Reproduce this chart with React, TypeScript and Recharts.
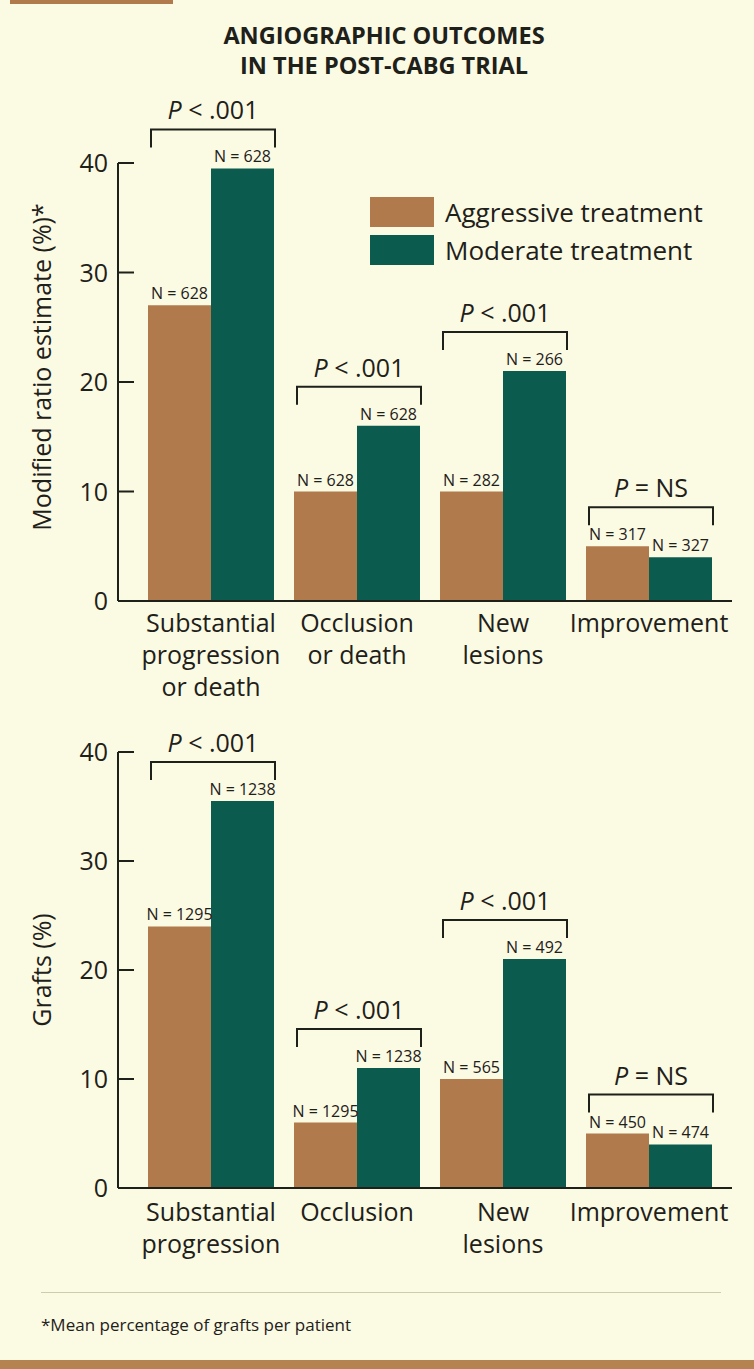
import React from 'react';
import { BarChart, Bar, XAxis, YAxis, Legend, LabelList } from 'recharts';

// top panel: per-patient estimates
const topCategories = ['Substantial\nprogression\nor death', 'Occlusion\nor death', 'New\nlesions', 'Improvement'];
const topAggressive = [27, 10, 10, 5];
const topModerate = [39.5, 16, 21, 4];
const topNAggressive = [628, 628, 282, 317];
const topNModerate = [628, 628, 266, 327];
const topP = ['< .001', '< .001', '< .001', '= NS'];

// bottom panel: per-graft percentages
const bottomCategories = ['Substantial\nprogression', 'Occlusion', 'New\nlesions', 'Improvement'];
const bottomAggressive = [24, 6, 10, 5];
const bottomModerate = [35.5, 11, 21, 4];
const bottomNAggressive = [1295, 1295, 565, 450];
const bottomNModerate = [1238, 1238, 492, 474];
const bottomP = ['< .001', '< .001', '< .001', '= NS'];

const yTicks = [0, 10, 20, 30, 40];

const BG = '#fbfae2';
const BROWN = '#b07a4c';
const TEAL = '#0c5b4f';
const INK = '#1e201a';
const FONT = '"Open Sans", sans-serif';

function buildRows(cats: string[], a: number[], m: number[], na: number[], nm: number[], p: string[]) {
  return cats.map((c, i) => ({ name: c, aggressive: a[i], moderate: m[i], nA: na[i], nM: nm[i], p: p[i] }));
}

const topRows = buildRows(topCategories, topAggressive, topModerate, topNAggressive, topNModerate, topP);
const bottomRows = buildRows(bottomCategories, bottomAggressive, bottomModerate, bottomNAggressive, bottomNModerate, bottomP);

const YTick = (props: any) => {
  const { x, y, payload } = props;
  return (
    <g>
      <line x1={x + 10} x2={x + 26} y1={y} y2={y} stroke={INK} strokeWidth={2} />
      <text x={x} y={y} dy="0.36em" textAnchor="end" fontSize={25} fill={INK} fontFamily={FONT}>
        {payload.value}
      </text>
    </g>
  );
};

const makeXTick = (firstDy: number) => (props: any) => {
  const { x, y, payload } = props;
  const lines = String(payload.value).split('\n');
  return (
    <text x={x} y={y} textAnchor="middle" fontSize={25} fill={INK} fontFamily={FONT}>
      {lines.map((l, i) => (
        <tspan key={i} x={x} y={y + firstDy + i * 32}>{l}</tspan>
      ))}
    </text>
  );
};

const nLabel = (props: any) => {
  const vb = props.viewBox ?? props;
  const { x, y, width } = vb;
  return (
    <text x={x + width / 2} y={y - 6} textAnchor="middle" fontSize={16} fontWeight={500} fill={INK} fontFamily={FONT}>
      {`N = ${props.value}`}
    </text>
  );
};

const makeBracket = (rows: any[]) => (props: any) => {
  const vb = props.viewBox ?? props;
  const { x, y, width, height } = vb;
  const row = rows[props.index];
  if (!row) return null;
  const perUnit = height / row.moderate;
  const brownTop = y + height - row.aggressive * perUnit;
  const top = Math.min(y, brownTop);
  const by = top - 39;
  const left = x - width + 3;
  const right = x + width + 1;
  return (
    <g>
      <path d={`M${left},${by + 18}V${by}H${right}V${by + 18}`} fill="none" stroke={INK} strokeWidth={2} />
      <text x={(left + right) / 2} y={by - 10} textAnchor="middle" fontSize={25} fill={INK} fontFamily={FONT}>
        <tspan fontStyle="italic">P</tspan>
        <tspan>{` ${props.value}`}</tspan>
      </text>
    </g>
  );
};

const LegendContent = (props: any) => (
  <div style={{ fontFamily: FONT }}>
    {(props.payload || []).map((p: any) => (
      <div key={p.value} style={{ display: 'flex', alignItems: 'center', height: 38 }}>
        <span style={{ display: 'inline-block', width: 64, height: 30, background: p.color, marginRight: 11 }} />
        <span style={{ fontSize: 26, color: INK }}>{p.value}</span>
      </div>
    ))}
  </div>
);

function Panel({ rows, height, marginTop, xHeight, yLabel, yShift, firstDy, legend }: any) {
  return (
    <BarChart
      width={754}
      height={height}
      data={rows}
      margin={{ top: marginTop, right: 22, bottom: 0, left: 0 }}
      barCategoryGap={10}
      barGap={0}
    >
      <XAxis
        dataKey="name"
        interval={0}
        height={xHeight}
        padding={{ left: 20, right: 10 }}
        axisLine={{ stroke: INK, strokeWidth: 2 }}
        tickLine={false}
        tickSize={0}
        tickMargin={0}
        tick={makeXTick(firstDy)}
      />
      <YAxis
        width={118}
        domain={[0, 40]}
        ticks={yTicks}
        axisLine={{ stroke: INK, strokeWidth: 2 }}
        tickLine={false}
        tickSize={0}
        tickMargin={10}
        tick={<YTick />}
        label={{
          value: yLabel,
          content: (lp: any) => {
            const vb = lp.viewBox;
            const cy = vb.y + vb.height / 2 + yShift;
            return (
              <text x={42} y={cy} transform={`rotate(-90 42 ${cy})`} textAnchor="middle" dy="0.36em" fontSize={25} fill={INK} fontFamily={FONT}>
                {yLabel}
              </text>
            );
          },
        }}
      />
      {legend && (
        <Legend
          layout="vertical"
          align="center"
          verticalAlign="middle"
          content={<LegendContent />}
          wrapperStyle={{ top: 113, left: 370, width: 360 }}
        />
      )}
      <Bar dataKey="aggressive" name="Aggressive treatment" fill={BROWN} isAnimationActive={false}>
        <LabelList dataKey="nA" content={nLabel} />
      </Bar>
      <Bar dataKey="moderate" name="Moderate treatment" fill={TEAL} isAnimationActive={false}>
        <LabelList dataKey="nM" content={nLabel} />
        <LabelList dataKey="p" content={makeBracket(rows)} />
      </Bar>
    </BarChart>
  );
}

export default function App() {
  return (
    <div style={{ position: 'absolute', left: 0, top: 0, width: 754, height: 1369, background: BG, fontFamily: FONT, overflow: 'hidden' }}>
      <div style={{ position: 'absolute', left: 10, top: 0, width: 163, height: 4, background: BROWN }} />
      <div style={{ position: 'absolute', left: 7, top: 20, width: 754, textAlign: 'center', fontSize: 23.5, lineHeight: '30px', fontWeight: 700, color: INK }}>
        ANGIOGRAPHIC OUTCOMES
        <br />
        IN THE POST-CABG TRIAL
      </div>
      <div style={{ position: 'absolute', left: 0, top: 80 }}>
        <Panel rows={topRows} height={631} marginTop={83} xHeight={110} yLabel="Modified ratio estimate (%)*" yShift={-15} firstDy={31} legend />
      </div>
      <div style={{ position: 'absolute', left: 0, top: 715 }}>
        <Panel rows={bottomRows} height={563} marginTop={37} xHeight={90} yLabel="Grafts (%)" yShift={0} firstDy={33} legend={false} />
      </div>
      <div style={{ position: 'absolute', left: 41, top: 1292, width: 680, height: 1, background: '#cfcbae' }} />
      <div style={{ position: 'absolute', left: 41, top: 1314, fontSize: 17, lineHeight: '22px', color: INK }}>
        *Mean percentage of grafts per patient
      </div>
      <div style={{ position: 'absolute', left: 0, top: 1360, width: 754, height: 9, background: '#b5834f' }} />
    </div>
  );
}
